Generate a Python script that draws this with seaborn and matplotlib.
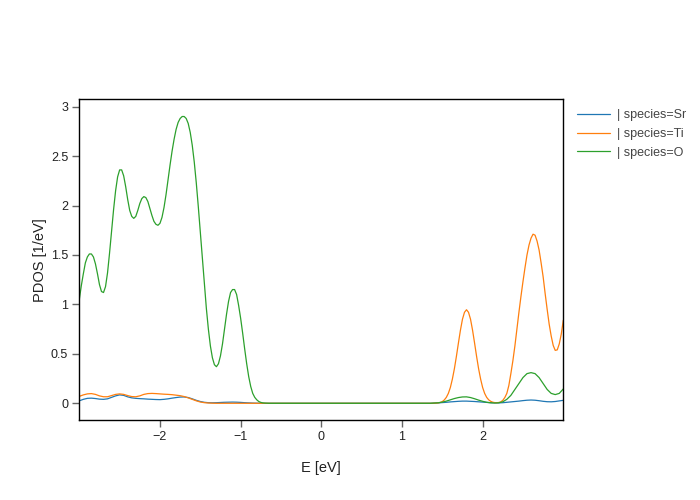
#!/usr/bin/env python3

# PDOS per species, replotted from a sisl/plotly figure.
import matplotlib

matplotlib.use("Agg")
import matplotlib.pyplot as plt
import numpy as np
import pandas as pd
import seaborn as sns

species = ["Sr", "Ti", "O"]
colors = ["#1f77b4", "#ff7f0e", "#2ca02c"]

# Energy sampling (eV) for each species; the flat zero gap inside the
# band gap is kept as just its two end points.
energy_sr = np.concatenate(
    [np.linspace(-3.0, -0.8, 45), [-0.75, 1.35], np.linspace(1.4, 3.0, 33)]
)
energy_ti = np.concatenate(
    [np.linspace(-3.0, -1.35, 34), [-1.3], np.linspace(1.35, 3.0, 67)]
)
energy_o = np.concatenate(
    [np.linspace(-3.0, -0.7, 93), [-0.65, 1.35], np.linspace(1.4, 3.0, 33)]
)

# PDOS values [1/eV].
pdos_sr = [
    0.025, 0.040, 0.050, 0.052, 0.048, 0.042, 0.040, 0.045, 0.060, 0.075,
    0.085, 0.080, 0.065, 0.055, 0.050, 0.047, 0.045, 0.042, 0.040, 0.038,
    0.037, 0.040, 0.045, 0.052, 0.058, 0.063, 0.064, 0.058, 0.045, 0.030,
    0.018, 0.010, 0.006, 0.005, 0.006, 0.008, 0.010, 0.011, 0.012, 0.011,
    0.009, 0.006, 0.004, 0.002, 0.001,
    0.0, 0.0,
    0.002, 0.004, 0.007, 0.010, 0.014, 0.017, 0.020, 0.022, 0.022, 0.020,
    0.018, 0.015, 0.012, 0.009, 0.006, 0.004, 0.004, 0.006, 0.010, 0.014,
    0.018, 0.022, 0.027, 0.031, 0.033, 0.031, 0.026, 0.020, 0.016, 0.015,
    0.018, 0.024, 0.030,
]

pdos_ti = [
    0.070, 0.085, 0.095, 0.098, 0.090, 0.075, 0.066, 0.066, 0.078, 0.090,
    0.095, 0.090, 0.078, 0.068, 0.066, 0.075, 0.090, 0.098, 0.100, 0.098,
    0.095, 0.092, 0.090, 0.087, 0.082, 0.077, 0.068, 0.055, 0.040, 0.025,
    0.013, 0.006, 0.003, 0.001,
    0.0,
    0.0, 0.0, 0.001, 0.002, 0.004, 0.009, 0.017, 0.034, 0.060, 0.100,
    0.160, 0.245, 0.350, 0.475, 0.610, 0.740, 0.850, 0.920, 0.946, 0.920,
    0.850, 0.740, 0.610, 0.475, 0.350, 0.245, 0.160, 0.100, 0.060, 0.035,
    0.020, 0.011, 0.007, 0.006, 0.008, 0.014, 0.030, 0.058, 0.100, 0.180,
    0.300, 0.430, 0.580, 0.750, 0.920, 1.080, 1.230, 1.370, 1.500, 1.600,
    1.670, 1.710, 1.700, 1.640, 1.550, 1.420, 1.280, 1.110, 0.950, 0.800,
    0.680, 0.585, 0.535, 0.540, 0.600, 0.700, 0.840,
]

pdos_o = [
    1.05, 1.19, 1.31, 1.42, 1.48, 1.51, 1.51, 1.48, 1.41, 1.31,
    1.20, 1.13, 1.12, 1.18, 1.32, 1.52, 1.74, 1.96, 2.15, 2.29,
    2.36, 2.36, 2.30, 2.19, 2.06, 1.95, 1.89, 1.87, 1.89, 1.95,
    2.02, 2.07, 2.09, 2.08, 2.04, 1.97, 1.90, 1.84, 1.81, 1.80,
    1.82, 1.88, 1.98, 2.11, 2.26, 2.41, 2.55, 2.67, 2.77, 2.84,
    2.88, 2.90, 2.90, 2.88, 2.83, 2.74, 2.61, 2.44, 2.23, 1.99,
    1.73, 1.46, 1.20, 0.96, 0.75, 0.58, 0.46, 0.39, 0.37, 0.40,
    0.48, 0.60, 0.75, 0.90, 1.03, 1.12, 1.15, 1.15, 1.10, 0.99,
    0.86, 0.71, 0.55, 0.40, 0.27, 0.17, 0.10, 0.06, 0.035, 0.018,
    0.009, 0.004, 0.002,
    0.0, 0.0,
    0.002, 0.005, 0.012, 0.022, 0.035, 0.048, 0.058, 0.064, 0.065, 0.058,
    0.046, 0.032, 0.020, 0.010, 0.005, 0.003, 0.005, 0.015, 0.040, 0.080,
    0.140, 0.200, 0.260, 0.300, 0.310, 0.300, 0.260, 0.200, 0.140, 0.100,
    0.088, 0.100, 0.145,
]


def main():
    sns.set_style("white")
    plt.rcParams["font.family"] = ["Liberation Sans", "DejaVu Sans"]

    frames = []
    for name, e, vals in zip(
        species, [energy_sr, energy_ti, energy_o], [pdos_sr, pdos_ti, pdos_o]
    ):
        frames.append(
            pd.DataFrame({"E": e, "PDOS": vals, "species": f"| species={name}"})
        )
    df = pd.concat(frames, ignore_index=True)

    fig = plt.figure(figsize=(7, 5), dpi=100)
    ax = fig.add_axes([0.1133, 0.16, 0.6914, 0.6414])

    sns.lineplot(
        data=df, x="E", y="PDOS", hue="species", palette=colors,
        linewidth=0.9, sort=True, ax=ax,
    )

    ax.set_xlim(-3, 3)
    ax.set_ylim(-0.169, 3.074)
    ax.set_xticks([-2, -1, 0, 1, 2])
    ax.set_xticklabels(["\u22122", "\u22121", "0", "1", "2"])
    ax.set_yticks([0, 0.5, 1, 1.5, 2, 2.5, 3])
    ax.set_yticklabels(["0", "0.5", "1", "1.5", "2", "2.5", "3"])

    for side in ax.spines.values():
        side.set_color("black")
        side.set_linewidth(1.0)

    ax.tick_params(
        axis="both", direction="out", length=5, width=1, color="#666666",
        labelsize=9, labelcolor="#222222", pad=3,
        bottom=True, left=True, top=False, right=False,
    )
    ax.set_xlabel("E [eV]", fontsize=10.5, color="#222222", labelpad=13)
    ax.set_ylabel("PDOS [1/eV]", fontsize=10.5, color="#222222", labelpad=3)

    handles, labels = ax.get_legend_handles_labels()
    leg = ax.legend(
        handles, labels, loc="upper left", bbox_to_anchor=(1.018, 0.985),
        frameon=False, fontsize=9, handlelength=2.6, handletextpad=0.6,
        labelspacing=0.55, borderaxespad=0,
    )
    for txt in leg.get_texts():
        txt.set_color("#444444")

    fig.savefig("out.png", dpi=100)
    plt.close(fig)


if __name__ == "__main__":
    main()
